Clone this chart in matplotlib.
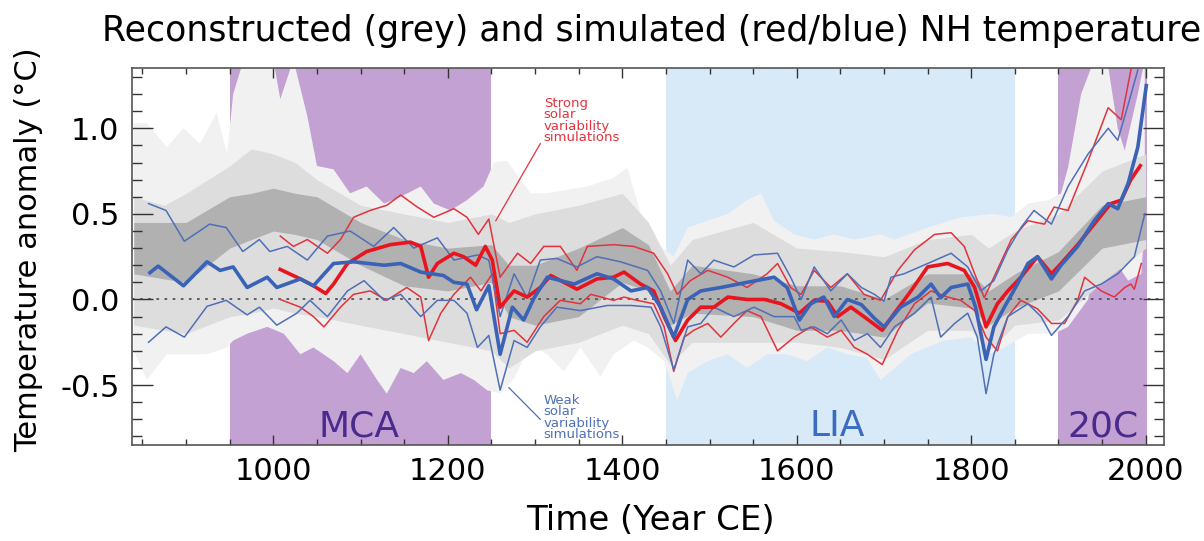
#!/usr/bin/env python3
# -*- coding: utf-8 -*-
"""
Reconstructed and simulated NH temperature over the last millennium.

Grey envelopes are the reconstructions, red/blue lines the strong and weak
solar variability simulations (thick: mean, thin: range).
"""
import matplotlib
matplotlib.use("Agg")
import matplotlib.pyplot as plt
import numpy as np
from matplotlib.ticker import FormatStrFormatter, MultipleLocator

# =============================================================================
# Data
# =============================================================================
# Thick blue: weak solar variability, ensemble mean
weak_mean_years = [857, 868, 897, 924, 939, 954, 970, 993, 1004, 1031, 1046,
                   1069, 1092, 1127, 1146, 1169, 1195, 1207, 1222, 1233, 1247,
                   1260, 1274, 1287, 1299, 1314, 1345, 1371, 1390, 1410, 1429,
                   1444, 1459, 1475, 1490, 1513, 1543, 1574, 1589, 1603, 1616,
                   1631, 1643, 1658, 1674, 1689, 1700, 1719, 1739, 1754, 1765,
                   1777, 1796, 1805, 1817, 1826, 1838, 1853, 1865, 1876, 1892,
                   1903, 1922, 1941, 1957, 1968, 1980, 1991, 2001]
weak_mean = [0.15, 0.195, 0.08, 0.22, 0.17, 0.19, 0.07, 0.13, 0.07, 0.12, 0.08,
             0.21, 0.22, 0.20, 0.21, 0.16, 0.14, 0.10, 0.09, -0.06, 0.08,
             -0.32, -0.045, -0.12, 0.01, 0.13, 0.09, 0.15, 0.12, 0.05, 0.07,
             -0.045, -0.22, 0.0, 0.05, 0.07, 0.10, 0.13, 0.07, -0.12, -0.025,
             0.014, -0.10, 0.0, -0.03, -0.11, -0.16, -0.045, 0.014, 0.09, 0.01,
             0.07, 0.09, -0.045, -0.35, -0.16, -0.045, 0.09, 0.21, 0.25, 0.12,
             0.20, 0.31, 0.46, 0.56, 0.53, 0.68, 0.89, 1.26]

# Thick red: strong solar variability, ensemble mean
strong_mean_years = [1006, 1031, 1046, 1060, 1069, 1085, 1107, 1134, 1157,
                     1169, 1178, 1188, 1207, 1218, 1232, 1243, 1251, 1260,
                     1276, 1291, 1306, 1318, 1337, 1348, 1371, 1390, 1402,
                     1421, 1436, 1448, 1461, 1475, 1490, 1505, 1521, 1543,
                     1563, 1582, 1603, 1620, 1635, 1647, 1662, 1677, 1698,
                     1712, 1731, 1750, 1773, 1792, 1804, 1817, 1830, 1842,
                     1857, 1876, 1892, 1903, 1922, 1941, 1960, 1972, 1983, 1995]
strong_mean = [0.18, 0.12, 0.08, 0.035, 0.09, 0.21, 0.28, 0.32, 0.335,
               0.31, 0.13, 0.21, 0.27, 0.25, 0.20, 0.31, 0.23, -0.045,
               0.05, 0.014, 0.07, 0.14, 0.09, 0.06, 0.12, 0.13, 0.16,
               0.09, 0.05, -0.10, -0.24, -0.12, -0.045, -0.045, 0.014, 0.0,
               0.0, -0.025, -0.08, -0.005, -0.01, -0.10, -0.045, -0.10, -0.18,
               -0.08, 0.05, 0.19, 0.21, 0.17, 0.07, -0.16, -0.025, 0.05,
               0.13, 0.25, 0.15, 0.21, 0.32, 0.44, 0.56, 0.58, 0.70, 0.79]

# Thin blue: weak solar variability, upper / lower range
weak_hi_years = [857, 877, 898, 927, 946, 965, 984, 996, 1016, 1039, 1062,
                 1088, 1115, 1138, 1161, 1188, 1207, 1234, 1247, 1260, 1276,
                 1291, 1306, 1325, 1348, 1371, 1398, 1429, 1444, 1459, 1475,
                 1490, 1505, 1528, 1551, 1578, 1593, 1605, 1620, 1639, 1658,
                 1674, 1689, 1700, 1708, 1723, 1750, 1777, 1796, 1811, 1826,
                 1842, 1857, 1872, 1892, 1911, 1934, 1957, 1968, 1980, 1991]
weak_hi = [0.56, 0.52, 0.34, 0.44, 0.42, 0.28, 0.35, 0.28, 0.31, 0.23, 0.37,
           0.40, 0.31, 0.42, 0.30, 0.36, 0.23, 0.26, 0.23, -0.10, 0.15,
           0.01, 0.23, 0.24, 0.19, 0.25, 0.22, 0.17, 0.05, -0.14, 0.23,
           0.15, 0.23, 0.19, 0.26, 0.27, 0.13, 0.0, 0.19, 0.05, 0.15,
           0.07, 0.03, -0.01, 0.13, 0.15, 0.21, 0.27, 0.19, 0.05, 0.11,
           0.29, 0.42, 0.52, 0.44, 0.66, 0.85, 1.0, 0.93, 1.14, 1.34]
weak_lo_years = [857, 877, 898, 924, 946, 970, 984, 1004, 1027, 1042, 1062,
                 1085, 1104, 1127, 1146, 1169, 1188, 1207, 1222, 1234, 1247,
                 1260, 1276, 1291, 1306, 1325, 1352, 1383, 1410, 1433, 1444,
                 1459, 1475, 1490, 1505, 1528, 1551, 1574, 1597, 1605, 1620,
                 1635, 1651, 1666, 1681, 1696, 1712, 1735, 1754, 1765, 1781,
                 1796, 1807, 1817, 1826, 1842, 1865, 1880, 1892, 1911, 1930,
                 1949, 1968, 1987, 1999]
weak_lo = [-0.25, -0.16, -0.22, -0.04, -0.005, -0.09, -0.045, -0.15, -0.08,
           -0.005, -0.10, 0.05, 0.11, -0.005, 0.03, -0.10, -0.005, -0.005,
           -0.08, -0.28, -0.21, -0.53, -0.24, -0.28, -0.16, -0.045, -0.065,
           -0.035, -0.035, -0.045, -0.16, -0.41, -0.16, -0.14, -0.045, -0.10,
           -0.045, -0.10, -0.10, -0.18, -0.16, -0.20, -0.12, -0.24, -0.20,
           -0.28, -0.16, -0.08, 0.014, -0.22, -0.14, -0.08, -0.22, -0.55,
           -0.32, -0.10, -0.025, -0.10, -0.21, -0.10, 0.05, 0.09, 0.15, 0.25,
           0.50]

# Thin red: strong solar variability, upper / lower range
strong_hi_years = [1008, 1023, 1039, 1062, 1077, 1092, 1111, 1130, 1146, 1165,
                   1184, 1207, 1222, 1235, 1247, 1260, 1280, 1295, 1310, 1329,
                   1348, 1360, 1390, 1413, 1436, 1452, 1463, 1478, 1498, 1521,
                   1543, 1566, 1578, 1593, 1605, 1620, 1639, 1658, 1677, 1696,
                   1716, 1735, 1758, 1777, 1792, 1804, 1815, 1826, 1846, 1865,
                   1884, 1895, 1911, 1934, 1957, 1972, 1983, 1990]
strong_hi = [0.37, 0.31, 0.35, 0.27, 0.35, 0.48, 0.52, 0.55, 0.61, 0.54,
             0.48, 0.53, 0.48, 0.38, 0.47, 0.13, 0.27, 0.21, 0.31, 0.31,
             0.17, 0.31, 0.32, 0.31, 0.27, 0.15, 0.03, 0.11, 0.17, 0.13,
             0.07, 0.15, 0.21, 0.07, 0.03, 0.17, 0.07, 0.15, 0.03, -0.005,
             0.17, 0.29, 0.38, 0.39, 0.31, 0.15, 0.01, 0.13, 0.35, 0.46,
             0.44, 0.54, 0.52, 0.81, 1.12, 1.05, 1.34, 1.45]
strong_lo_years = [1008, 1031, 1046, 1058, 1077, 1092, 1111, 1130, 1153, 1169,
                   1178, 1192, 1207, 1226, 1238, 1251, 1260, 1276, 1291, 1310,
                   1329, 1352, 1364, 1390, 1402, 1417, 1436, 1448, 1459, 1471,
                   1482, 1498, 1513, 1528, 1543, 1559, 1578, 1597, 1616, 1635,
                   1651, 1666, 1681, 1698, 1716, 1735, 1754, 1773, 1788, 1804,
                   1817, 1830, 1842, 1857, 1876, 1892, 1907, 1922, 1930, 1949,
                   1964, 1976, 1983, 1987, 1995]
strong_lo = [0.0, -0.045, -0.10, -0.16, -0.045, 0.03, 0.05, -0.005, 0.07,
             0.014, -0.24, -0.08, 0.03, 0.13, 0.05, 0.15, -0.20, -0.18, -0.25,
             -0.10, -0.005, -0.025, 0.03, -0.005, 0.014, -0.005, -0.025,
             -0.16, -0.42, -0.22, -0.18, -0.14, -0.22, -0.14, -0.065, -0.10,
             -0.30, -0.22, -0.16, -0.22, -0.18, -0.28, -0.32, -0.38, -0.18,
             -0.025, 0.05, 0.014, -0.005, -0.065, -0.22, -0.30, -0.10, -0.005,
             -0.055, -0.14, -0.14, -0.005, 0.13, 0.05, 0.014, 0.07, 0.09,
             0.06, 0.21]

# Grey: reconstruction envelope (outermost, light)
recon_outer_hi_years = [840, 855, 878, 897, 916, 935, 947, 954, 966, 1000,
                        1008, 1023, 1039, 1050, 1069, 1088, 1107, 1127, 1146,
                        1169, 1184, 1203, 1222, 1241, 1253, 1268, 1295, 1314,
                        1337, 1360, 1390, 1406, 1421, 1444, 1459, 1475, 1498,
                        1521, 1543, 1559, 1574, 1597, 1620, 1643, 1666, 1696,
                        1712, 1750, 1788, 1826, 1846, 1865, 1888, 1903, 1911,
                        1926, 1941, 1957, 1968, 1976, 1991, 1999]
recon_outer_hi = [1.03, 1.03, 0.89, 1.0, 0.91, 1.09, 0.85, 1.2, 1.4, 1.4,
                  1.17, 1.4, 1.07, 0.78, 0.76, 0.62, 0.66, 0.56, 0.60,
                  0.66, 0.56, 0.52, 0.58, 0.66, 0.80, 0.81, 0.62, 0.62,
                  0.64, 0.66, 0.71, 0.77, 0.50, 0.31, 0.25, 0.42, 0.46,
                  0.50, 0.58, 0.62, 0.46, 0.38, 0.35, 0.38, 0.35, 0.38,
                  0.35, 0.42, 0.48, 0.50, 0.48, 0.56, 0.58, 0.62, 0.77,
                  1.2, 1.4, 1.36, 1.0, 0.87, 1.2, 1.4]
recon_outer_lo_years = [840, 855, 878, 901, 924, 947, 954, 970, 993, 1012,
                        1031, 1046, 1069, 1085, 1100, 1119, 1130, 1146, 1161,
                        1176, 1195, 1215, 1230, 1245, 1260, 1276, 1295, 1314,
                        1333, 1352, 1375, 1390, 1413, 1429, 1448, 1463, 1475,
                        1498, 1521, 1543, 1566, 1589, 1612, 1635, 1658, 1680,
                        1696, 1731, 1769, 1800, 1819, 1838, 1865, 1895, 1911,
                        1934, 1941, 1964, 1980, 1995, 1999]
recon_outer_lo = [-0.30, -0.47, -0.32, -0.32, -0.32, -0.28, -0.24, -0.20,
                  -0.16, -0.20, -0.32, -0.28, -0.36, -0.43, -0.32, -0.47,
                  -0.55, -0.40, -0.43, -0.36, -0.47, -0.43, -0.47, -0.53,
                  -0.55, -0.46, -0.26, -0.32, -0.42, -0.28, -0.45, -0.32,
                  -0.24, -0.28, -0.36, -0.59, -0.43, -0.36, -0.32, -0.40,
                  -0.32, -0.32, -0.36, -0.28, -0.32, -0.34, -0.47, -0.32,
                  -0.24, -0.22, -0.32, -0.28, -0.20, -0.20, -0.16, 0.0, 0.23,
                  0.23, 0.11, 0.15, 0.45]

# Grey: reconstruction spread (middle) and densest part (core)
recon_band_years = [840, 875, 900, 950, 975, 1000, 1025, 1050, 1100, 1150,
                    1200, 1250, 1270, 1300, 1350, 1400, 1430, 1455, 1480,
                    1550, 1600, 1650, 1700, 1750, 1800, 1820, 1850, 1900,
                    1950, 2000]
recon_mid_hi = [0.60, 0.55, 0.62, 0.78, 0.88, 0.85, 0.80, 0.70, 0.55, 0.50,
                0.45, 0.50, 0.45, 0.50, 0.55, 0.62, 0.45, 0.20, 0.35,
                0.45, 0.30, 0.28, 0.25, 0.35, 0.38, 0.30, 0.40, 0.50,
                0.75, 0.85]
recon_mid_lo = [-0.15, -0.18, -0.20, -0.10, -0.08, -0.05, -0.08, -0.10,
                -0.15, -0.20, -0.25, -0.30, -0.40, -0.30, -0.25, -0.15,
                -0.20, -0.38, -0.25, -0.25, -0.25, -0.28, -0.35, -0.18,
                -0.18, -0.30, -0.15, -0.12, 0.10, 0.30]
recon_core_hi = [0.45, 0.45, 0.45, 0.60, 0.62, 0.65, 0.62, 0.60, 0.45, 0.35,
                 0.30, 0.32, 0.20, 0.20, 0.30, 0.42, 0.32, 0.05, 0.20,
                 0.15, 0.08, 0.08, 0.00, 0.15, 0.15, 0.05, 0.15, 0.28,
                 0.55, 0.60]
recon_core_lo = [0.15, 0.12, 0.10, 0.30, 0.35, 0.40, 0.38, 0.35, 0.20, 0.08,
                 0.05, 0.10, -0.10, -0.15, -0.10, 0.10, 0.05, -0.15, -0.08,
                 -0.10, -0.18, -0.18, -0.22, -0.02, -0.05, -0.15, -0.05,
                 0.05, 0.30, 0.35]

# Periods
period_names = ["MCA", "LIA", "20C"]
period_starts = [950, 1450, 1900]
period_ends = [1250, 1850, 2001]
period_label_years = [1098, 1646, 1951]

# =============================================================================
# Styles
# =============================================================================
FONT = ["DejaVu Sans"]
PURPLE = "#c3a2d3"
LIGHT_BLUE = "#d8eaf8"
PERIOD_COLORS = [PURPLE, LIGHT_BLUE, PURPLE]
PERIOD_TEXT_COLORS = ["#4a2a8c", "#3b6cc0", "#4a2a8c"]
RED = "#e8141e"
RED_THIN = "#e2333d"
BLUE = "#3a62b6"
BLUE_THIN = "#4f6fb7"


def _create_fig():
    """Create the figure with an axes placed like the original."""
    plt.rcParams["font.family"] = FONT
    plt.rcParams["axes.unicode_minus"] = False
    fig = plt.figure(figsize=(12.04, 5.41), dpi=100)
    axes = fig.add_axes([132 / 1204, 96 / 541, 1032 / 1204, 377 / 541])
    axes.set_xlim(838, 2021)
    axes.set_ylim(-0.85, 1.352)
    return fig, axes


def _fill_polygon(axes, yrs_hi, hi, yrs_lo, lo, **kwargs):
    """Fill between two edges sampled at different years."""
    xs = np.concatenate([yrs_hi, yrs_lo[::-1]])
    ys = np.concatenate([hi, lo[::-1]])
    axes.fill(xs, ys, **kwargs)


def _plot_background(axes):
    """Period shading, reconstruction envelopes and zero line."""
    for start, end, color in zip(period_starts, period_ends, PERIOD_COLORS):
        axes.axvspan(start, end, color=color, lw=0, zorder=0)

    _fill_polygon(axes, recon_outer_hi_years, recon_outer_hi,
                  recon_outer_lo_years, recon_outer_lo,
                  color="#f1f1f1", lw=0, zorder=1)
    axes.fill_between(recon_band_years, recon_mid_lo, recon_mid_hi,
                      color="#dddddd", lw=0, zorder=1.1)
    axes.fill_between(recon_band_years, recon_core_lo, recon_core_hi,
                      color="#949494", alpha=0.6, lw=0, zorder=1.2)

    axes.axhline(0, color="#555555", ls=(0, (1.5, 3)), lw=1.3, zorder=1.5)


def _plot_simulations(axes):
    """Thin range lines then thick ensemble means."""
    thin = {"lw": 1.1, "zorder": 2, "solid_joinstyle": "round"}
    thick = {"lw": 2.6, "solid_joinstyle": "round", "solid_capstyle": "butt"}
    axes.plot(strong_hi_years, strong_hi, color=RED_THIN, **thin)
    axes.plot(strong_lo_years, strong_lo, color=RED_THIN, **thin)
    axes.plot(weak_hi_years, weak_hi, color=BLUE_THIN, **thin)
    axes.plot(weak_lo_years, weak_lo, color=BLUE_THIN, **thin)
    axes.plot(strong_mean_years, strong_mean, color=RED, zorder=3, **thick)
    axes.plot(weak_mean_years, weak_mean, color=BLUE, zorder=3.1, **thick)


def _annotate(fig, axes):
    """Period names, leader notes, title and axis labels."""
    for name, year, color in zip(period_names, period_label_years,
                                 PERIOD_TEXT_COLORS):
        axes.text(year, -0.80, name, color=color, fontsize=26,
                  ha="center", va="baseline", zorder=4)

    axes.text(1310, 1.185, "Strong\nsolar\nvariability\nsimulations",
              color=RED_THIN, fontsize=9.5, linespacing=0.85,
              ha="left", va="top", zorder=4)
    axes.plot([1306, 1255], [0.91, 0.46], color=RED_THIN, lw=0.9, zorder=4)
    axes.text(1310, -0.55, "Weak\nsolar\nvariability\nsimulations",
              color=BLUE_THIN, fontsize=9.5, linespacing=0.85,
              ha="left", va="top", zorder=4)
    axes.plot([1270, 1306], [-0.515, -0.70], color=BLUE_THIN, lw=0.9,
              zorder=4)

    fig.text(652 / 1204, 1 - 41 / 541,
             "Reconstructed (grey) and simulated (red/blue) NH temperature",
             fontsize=25, ha="center", va="baseline")
    fig.text(650 / 1204, 1 - 530 / 541, "Time (Year CE)", fontsize=24.5,
             ha="center", va="baseline")
    fig.text(29 / 1204, 1 - 250 / 541, "Temperature anomaly (°C)",
             fontsize=22, rotation=90, ha="center", va="center")


def _style_axes(axes):
    """Ticks in on every side, IDL-like."""
    axes.xaxis.set_major_locator(MultipleLocator(200))
    axes.xaxis.set_minor_locator(MultipleLocator(50))
    axes.yaxis.set_major_locator(MultipleLocator(0.5))
    axes.yaxis.set_minor_locator(MultipleLocator(0.1))
    axes.yaxis.set_major_formatter(FormatStrFormatter("%.1f"))
    axes.tick_params(which="both", direction="in", top=True, right=True,
                     color="#333333", width=1, labelsize=22, zorder=5)
    axes.tick_params(axis="x", which="major", length=7, pad=9)
    axes.tick_params(axis="x", which="minor", length=4)
    axes.tick_params(axis="y", which="major", length=15, pad=9)
    axes.tick_params(axis="y", which="minor", length=7.5)
    for spine in axes.spines.values():
        spine.set_color("#555555")
        spine.set_linewidth(1.2)
        spine.set_zorder(6)


# =============================================================================
# Main script
# =============================================================================
if __name__ == "__main__":
    fig, axes = _create_fig()
    _plot_background(axes)
    _plot_simulations(axes)
    _annotate(fig, axes)
    _style_axes(axes)
    fig.savefig("out.png", dpi=100)
